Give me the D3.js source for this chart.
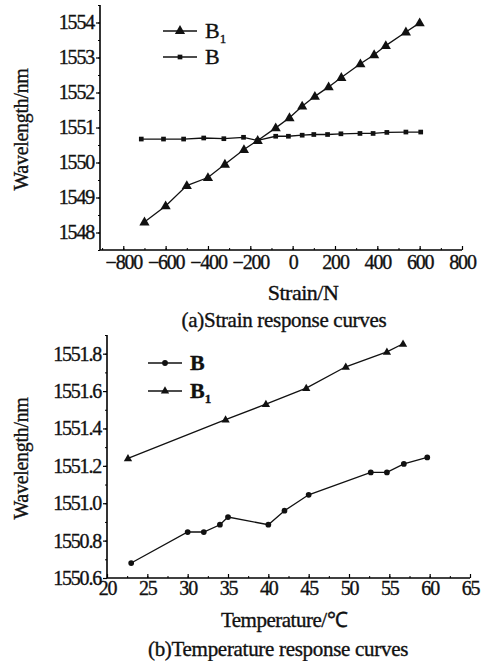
<!DOCTYPE html>
<html>
<head>
<meta charset="utf-8">
<script src="https://cdn.jsdelivr.net/npm/d3@7"></script>
<style>
  html, body { margin: 0; padding: 0; background: #fff; }
  svg text { font-family: "Liberation Serif", "Times New Roman", serif; fill: #111; stroke: #111; stroke-width: 0.35px; }
</style>
</head>
<body>
<svg id="chart" width="484" height="661"></svg>
<script>
// ---- data ------------------------------------------------------------------
// (a) strain response
const strainB1X = [-700, -600, -500, -400, -320, -230, -165, -80, -15, 45, 105, 170, 230, 320, 385, 440, 535, 600];
const strainB1  = [1548.30, 1548.76, 1549.34, 1549.57, 1549.95, 1550.37, 1550.63, 1550.99, 1551.28,
                   1551.61, 1551.89, 1552.16, 1552.43, 1552.82, 1553.08, 1553.34, 1553.73, 1553.99];
const strainBX  = [-715, -610, -515, -420, -325, -232, -165, -80, -20, 45, 100, 165, 228, 318, 380, 445, 535, 605];
const strainB   = [1550.67, 1550.67, 1550.67, 1550.70, 1550.68, 1550.72, 1550.63, 1550.75, 1550.75,
                   1550.78, 1550.80, 1550.80, 1550.82, 1550.83, 1550.83, 1550.86, 1550.87, 1550.87];
const strainXTicks = [-800, -600, -400, -200, 0, 200, 400, 600, 800];
const strainYTicks = [1548, 1549, 1550, 1551, 1552, 1553, 1554];

// (b) temperature response
const tempBX  = [23, 30, 32, 34, 35, 40, 42, 45, 52.7, 54.7, 56.8, 59.7];
const tempB   = [1550.68, 1550.846, 1550.846, 1550.885, 1550.926, 1550.885, 1550.96, 1551.045,
                 1551.165, 1551.165, 1551.21, 1551.245];
const tempB1X = [22.6, 34.7, 39.7, 44.7, 49.6, 54.7, 56.7];
const tempB1  = [1551.24, 1551.447, 1551.53, 1551.616, 1551.73, 1551.81, 1551.853];
const tempXTicks = [20, 25, 30, 35, 40, 45, 50, 55, 60, 65];
const tempYTicks = [1550.6, 1550.8, 1551.0, 1551.2, 1551.4, 1551.6, 1551.8];

const svg = d3.select('#chart');
const zip = (xs, ys) => xs.map((x, i) => [x, ys[i]]);

// ---- one panel ---------------------------------------------------------------
function drawPanel(cfg) {
  const x = d3.scaleLinear().domain(cfg.xDomain).range(cfg.xRange);
  const y = d3.scaleLinear().domain(cfg.yDomain).range(cfg.yRange);
  const g = svg.append('g');
  const x0 = cfg.xRange[0], y0 = cfg.yRange[0];

  // y axis
  const yAx = g.append('g').attr('transform', `translate(${x0},0)`)
    .call(d3.axisLeft(y).tickValues(cfg.yTicks).tickFormat(cfg.yFmt).tickSize(4).tickPadding(2));
  yAx.select('.domain').attr('d', `M0,${y0}V${cfg.yRange[1]}`).attr('stroke-width', 1.6);
  yAx.selectAll('.tick line').attr('stroke-width', 1.2);
  yAx.selectAll('.tick text').attr('font-size', cfg.fs).attr('letter-spacing', -1.2);
  g.append('g').attr('transform', `translate(${x0},0)`)
    .call(d3.axisLeft(y).tickValues(cfg.yMinor).tickFormat('').tickSize(2))
    .call(s => s.select('.domain').remove());

  // x axis (ticks point up into the plot)
  const xAx = g.append('g').attr('transform', `translate(0,${y0})`)
    .call(d3.axisBottom(x).tickValues(cfg.xTicks).tickSize(-4).tickPadding(cfg.xPad));
  xAx.select('.domain').attr('d', `M${x0},0H${cfg.xRange[1]}`).attr('stroke-width', 1.6);
  xAx.selectAll('.tick line').attr('stroke-width', 1.2);
  xAx.selectAll('.tick text').attr('font-size', cfg.fs).attr('letter-spacing', -1.2);
  g.append('g').attr('transform', `translate(0,${y0})`)
    .call(d3.axisBottom(x).tickValues(cfg.xMinor).tickFormat('').tickSize(-2))
    .call(s => s.select('.domain').remove());

  // series
  const line = d3.line().x(d => x(d[0])).y(d => y(d[1]));
  cfg.series.forEach(s => {
    g.append('path').datum(s.pts).attr('d', line)
      .attr('fill', 'none').attr('stroke', '#111').attr('stroke-width', 1.3);
    g.selectAll(null).data(s.pts).enter().append('path')
      .attr('d', d3.symbol().type(s.sym).size(s.size))
      .attr('transform', d => `translate(${x(d[0])},${y(d[1]) + (s.sym === d3.symbolTriangle ? 0.5 : 0)})`)
      .attr('fill', '#111');
  });

  // legend
  cfg.series.forEach((s, i) => {
    const ly = cfg.legend.y + i * cfg.legend.dy;
    g.append('line').attr('x1', cfg.legend.x).attr('x2', cfg.legend.x + 34)
      .attr('y1', ly).attr('y2', ly).attr('stroke', '#111').attr('stroke-width', 1.3);
    g.append('path').attr('d', d3.symbol().type(s.sym).size(s.size))
      .attr('transform', `translate(${cfg.legend.x + 17},${ly})`).attr('fill', '#111');
    const t = g.append('text').attr('x', cfg.legend.x + 42).attr('y', ly + 7)
      .attr('font-size', 22).attr('font-weight', cfg.legend.bold ? 'bold' : 'normal').text('B');
    if (s.sub) t.append('tspan').attr('dy', 5).attr('font-size', 13).text(s.sub);
  });

  // titles
  g.append('text')
    .attr('transform', `translate(${cfg.yTitleX},${(y0 + cfg.yRange[1]) / 2 + 2}) rotate(-90)`)
    .attr('text-anchor', 'middle').attr('font-size', 20).attr('letter-spacing', -0.3)
    .text('Wavelength/nm');
  g.append('text').attr('x', cfg.xTitle[0]).attr('y', cfg.xTitle[1])
    .attr('text-anchor', 'middle').attr('font-size', cfg.xTitleFs).attr('letter-spacing', -0.5).text(cfg.xLabel);
  g.append('text').attr('x', cfg.caption[0]).attr('y', cfg.caption[1])
    .attr('text-anchor', 'middle').attr('font-size', cfg.captionFs).attr('letter-spacing', -0.3).text(cfg.captionText);
}

drawPanel({
  xDomain: [-910, 800], xRange: [100, 462],
  yDomain: [1547.5, 1554.5], yRange: [250, 5],
  xTicks: strainXTicks, xMinor: d3.range(-900, 801, 100),
  yTicks: strainYTicks, yMinor: d3.range(1547.5, 1554.6, 0.5),
  yFmt: d3.format('d'), fs: 20, xPad: 5,
  series: [
    { pts: zip(strainB1X, strainB1), sym: d3.symbolTriangle, size: 45, sub: '1' },
    { pts: zip(strainBX, strainB), sym: d3.symbolSquare, size: 22 }
  ],
  legend: { x: 163, y: 31, dy: 26, bold: false },
  yTitleX: 28, xTitle: [303, 300], xTitleFs: 22, xLabel: 'Strain/N',
  caption: [284, 327], captionFs: 21, captionText: '(a)Strain response curves'
});

drawPanel({
  xDomain: [20, 65], xRange: [107, 470],
  yDomain: [1550.6, 1551.9], yRange: [578, 335],
  xTicks: tempXTicks, xMinor: d3.range(20, 65.1, 2.5),
  yTicks: tempYTicks, yMinor: d3.range(1550.6, 1551.91, 0.1),
  yFmt: d3.format('.1f'), fs: 20, xPad: 3,
  series: [
    { pts: zip(tempBX, tempB), sym: d3.symbolCircle, size: 26 },
    { pts: zip(tempB1X, tempB1), sym: d3.symbolTriangle, size: 30, sub: '1' }
  ],
  legend: { x: 148, y: 363, dy: 28, bold: true },
  yTitleX: 28, xTitle: [284, 627], xTitleFs: 21, xLabel: 'Temperature/\u2103',
  caption: [278, 656], captionFs: 21, captionText: '(b)Temperature response curves'
});
</script>
</body>
</html>
